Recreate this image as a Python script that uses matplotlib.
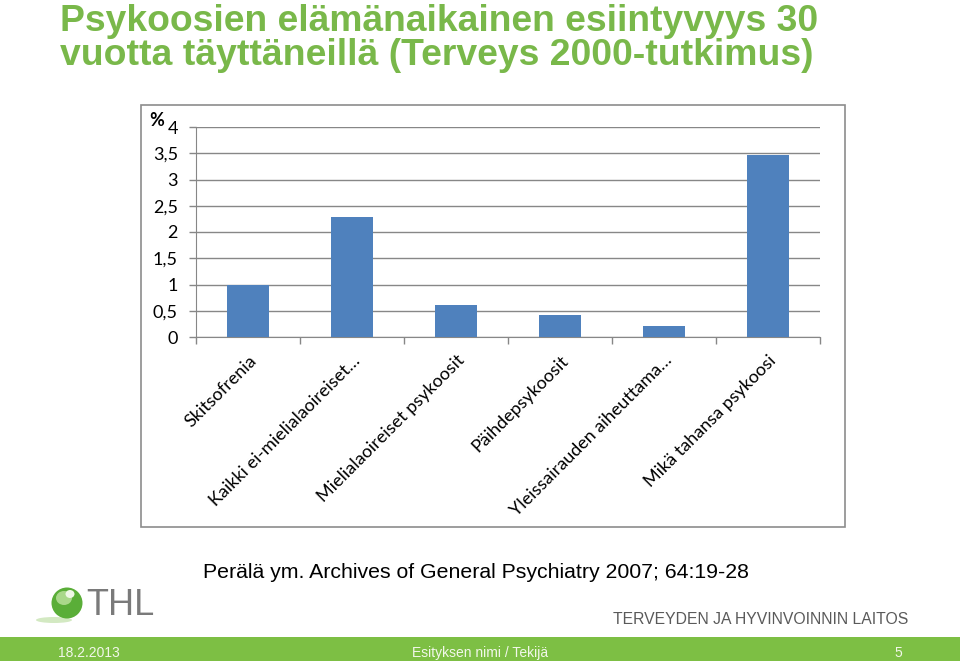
"""
Psykoosien elämänaikainen esiintyvyys 30 vuotta täyttäneillä
- bar chart in a slide layout (THL footer)
"""
import matplotlib
matplotlib.use("Agg")
import matplotlib.pyplot as plt
from matplotlib.patches import Rectangle, Ellipse
import numpy as np

###############################################################################
# Data
categories = ["Skitsofrenia", "Kaikki ei-mielialaoireiset…", "Mielialaoireiset psykoosit",
              "Päihdepsykoosit", "Yleissairauden aiheuttama…", "Mikä tahansa psykoosi"]
values = [1.0, 2.29, 0.61, 0.42, 0.21, 3.47]
yticks = [0, 0.5, 1, 1.5, 2, 2.5, 3, 3.5, 4]
ytick_labels = ["0", "0,5", "1", "1,5", "2", "2,5", "3", "3,5", "4"]

GREEN = "#79B84A"
BAR = "#4F81BD"
GRID = "#878787"

W, H = 960, 661


def fx(px):
    return px / W


def fy(py):
    return 1 - py / H


###############################################################################
# Figure
fig = plt.figure(figsize=(9.6, 6.61), dpi=100)

# Title
fig.text(fx(60), fy(31), "Psykoosien elämänaikainen esiintyvyys 30",
         fontsize=26.8, fontweight="bold", color=GREEN, family="Liberation Sans",
         va="baseline", ha="left")
fig.text(fx(60), fy(65), "vuotta täyttäneillä (Terveys 2000-tutkimus)",
         fontsize=26.9, fontweight="bold", color=GREEN, family="Liberation Sans",
         va="baseline", ha="left")

# Chart frame
fig.patches.append(Rectangle((fx(141), fy(527)), 704 / W, 422 / H,
                             transform=fig.transFigure, facecolor="white",
                             edgecolor="#8c8c8c", linewidth=1.2, zorder=0))

ax = fig.add_axes([fx(196), fy(337), 624 / W, 210 / H])
ax.set_zorder(5)
ax.patch.set_alpha(0)
x = np.arange(len(categories))
ax.bar(x, values, width=0.4, color=BAR, zorder=3)
ax.set_xlim(-0.5, len(categories) - 0.5)
ax.set_ylim(0, 4)
ax.set_yticks(yticks)
ax.set_yticklabels(ytick_labels, family="Lato", fontsize=13)
ax.yaxis.grid(True, color=GRID, linewidth=1)
ax.set_axisbelow(True)

ax.set_xticks(x)
ax.set_xticklabels(categories, rotation=45, ha="right", rotation_mode="anchor",
                   family="Lato", fontsize=13)
ax.tick_params(axis="x", length=0, pad=11)
ax.set_xticks(np.arange(-0.5, len(categories), 1), minor=True)
ax.tick_params(axis="x", which="minor", length=5, color=GRID, width=1)
ax.tick_params(axis="y", length=5, color=GRID, width=1, pad=8)

for side in ["top", "right"]:
    ax.spines[side].set_visible(False)
for side in ["left", "bottom"]:
    ax.spines[side].set_color(GRID)

fig.text(fx(149), fy(121), "%", fontsize=13, fontweight="bold",
         family="Lato", va="center", ha="left", zorder=6)

# Citation
fig.text(fx(203), fy(578),
         "Perälä ym. Archives of General Psychiatry 2007; 64:19-28",
         fontsize=15.3, family="Liberation Sans", va="baseline", ha="left")

# THL logo
fig.patches.append(Ellipse((fx(54), fy(620)), 36 / W, 6 / H,
                           transform=fig.transFigure, facecolor="#d3e9c2",
                           edgecolor="none"))
fig.patches.append(Ellipse((fx(67), fy(603)), 31 / W, 31 / H,
                           transform=fig.transFigure, facecolor="#5aae38",
                           edgecolor="none"))
fig.patches.append(Ellipse((fx(64), fy(598)), 16 / W, 14 / H,
                           transform=fig.transFigure, facecolor="#a9d88a",
                           edgecolor="none"))
fig.patches.append(Ellipse((fx(70), fy(594)), 9 / W, 8 / H,
                           transform=fig.transFigure, facecolor="#eef7e6",
                           edgecolor="none"))
fig.text(fx(86), fy(615), "THL", fontsize=26, color="#7a7a7a",
         family="Liberation Sans", va="baseline", ha="left")
fig.text(fx(908), fy(624), "TERVEYDEN JA HYVINVOINNIN LAITOS",
         fontsize=11.3, color="#5a5a5a", family="Liberation Sans",
         va="baseline", ha="right")

# Footer bar
fig.patches.append(Rectangle((0, 0), 1, 24 / H, transform=fig.transFigure,
                             facecolor="#7DBF44", edgecolor="none"))
for xp, txt, ha in [(58, "18.2.2013", "left"),
                    (480, "Esityksen nimi / Tekijä", "center"),
                    (902, "5", "right")]:
    fig.text(fx(xp), fy(653), txt, fontsize=10, color="#f2f7ea",
             family="Liberation Sans", va="center", ha=ha)

fig.savefig("out.png", dpi=100)
